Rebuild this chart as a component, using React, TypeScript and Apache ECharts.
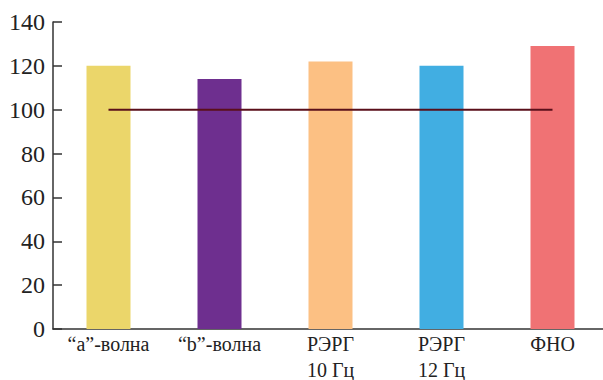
import React, { useEffect, useRef } from "react";
import * as echarts from "echarts";

const categories = ["“a”-волна", "“b”-волна", "РЭРГ\n10 Гц", "РЭРГ\n12 Гц", "ФНО"];
const values = [120, 114, 122, 120, 129];
const barColors = ["#ebd66a", "#6e2f8f", "#fcc083", "#41aee2", "#f07274"];
const referenceLine = [100, 100, 100, 100, 100];
const yTicks = { min: 0, max: 140, interval: 20 };

export default function App() {
  const ref = useRef<HTMLDivElement>(null);
  useEffect(() => {
    const chart = echarts.init(ref.current!, undefined, { renderer: "svg" });
    chart.setOption({
      animation: false,
      grid: { left: 53, width: 555, top: 22, bottom: 51, outerBoundsMode: "none", containLabel: false },
      xAxis: {
        type: "category",
        data: categories,
        boundaryGap: true,
        axisLine: { lineStyle: { color: "#333", width: 1.5 } },
        axisTick: { show: false },
        axisLabel: {
          color: "#222",
          fontFamily: "Liberation Serif",
          fontSize: 20,
          lineHeight: 26,
          margin: 2,
          interval: 0,
        },
        splitLine: { show: false },
      },
      yAxis: {
        type: "value",
        min: yTicks.min,
        max: yTicks.max,
        interval: yTicks.interval,
        axisLine: { show: true, lineStyle: { color: "#333", width: 1.5 } },
        axisTick: { show: true, inside: true, length: 9, lineStyle: { color: "#333", width: 1.5 } },
        axisLabel: { color: "#222", fontFamily: "Liberation Serif", fontSize: 24, margin: 8 },
        splitLine: { show: false },
      },
      series: [
        {
          type: "bar",
          barWidth: 44,
          data: values.map((v, i) => ({ value: v, itemStyle: { color: barColors[i] } })),
        },
        {
          type: "line",
          data: referenceLine,
          symbol: "none",
          lineStyle: { color: "#5a0f1a", width: 2 },
          z: 5,
        },
      ],
    });
    return () => chart.dispose();
  }, []);
  return <div ref={ref} style={{ width: 603, height: 380, position: "absolute", left: 0, top: 0 }} />;
}
